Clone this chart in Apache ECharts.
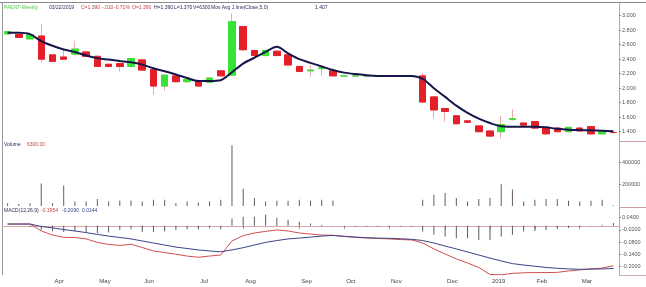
<!DOCTYPE html>
<html><head><meta charset="utf-8">
<script src="https://cdn.jsdelivr.net/npm/echarts/dist/echarts.min.js"></script>
<style>html,body{margin:0;padding:0;background:#fff}#c{width:646px;height:287px}</style>
</head><body><div id="c"></div>
<script>
const dates = ['2018-03-09','2018-03-16','2018-03-23','2018-03-30','2018-04-06','2018-04-13','2018-04-20','2018-04-27','2018-05-04','2018-05-11','2018-05-18','2018-05-25','2018-06-01','2018-06-08','2018-06-15','2018-06-22','2018-06-29','2018-07-06','2018-07-13','2018-07-20','2018-07-27','2018-08-03','2018-08-10','2018-08-17','2018-08-24','2018-08-31','2018-09-07','2018-09-14','2018-09-21','2018-09-28','2018-10-05','2018-10-12','2018-10-19','2018-10-26','2018-11-02','2018-11-09','2018-11-16','2018-11-23','2018-11-30','2018-12-07','2018-12-14','2018-12-21','2018-12-28','2019-01-04','2019-01-11','2019-01-18','2019-01-25','2019-02-01','2019-02-08','2019-02-15','2019-02-22','2019-03-01','2019-03-08','2019-03-15','2019-03-22'];
const openP  = [2.75,2.74,2.68,2.72,2.46,2.43,2.47,2.50,2.44,2.33,2.34,2.30,2.39,2.26,2.03,2.17,2.09,2.10,2.08,2.24,2.18,2.85,2.52,2.45,2.51,2.46,2.30,2.24,2.27,2.24,2.17,2.17,2.17,2.17,2.17,2.17,2.17,2.17,1.88,1.72,1.62,1.55,1.48,1.41,1.40,1.57,1.52,1.54,1.45,1.45,1.40,1.45,1.47,1.37,1.39];
const closeP = [2.78,2.70,2.74,2.40,2.37,2.40,2.54,2.44,2.30,2.30,2.30,2.41,2.25,2.03,2.18,2.09,2.12,2.03,2.14,2.17,2.92,2.53,2.45,2.52,2.45,2.32,2.23,2.25,2.28,2.17,2.17,2.17,2.17,2.17,2.17,2.17,2.17,1.81,1.70,1.68,1.51,1.53,1.40,1.34,1.50,1.58,1.49,1.45,1.37,1.40,1.46,1.41,1.37,1.40,1.39];
const highP  = [2.79,2.75,2.75,2.88,2.47,2.55,2.655,2.51,2.45,2.34,2.35,2.42,2.40,2.27,2.19,2.18,2.13,2.11,2.15,2.25,3.03,2.86,2.53,2.53,2.52,2.47,2.31,2.32,2.31,2.25,2.17,2.17,2.17,2.17,2.17,2.17,2.17,2.21,1.89,1.73,1.63,1.56,1.49,1.42,1.62,1.71,1.53,1.55,1.46,1.46,1.47,1.46,1.48,1.41,1.39];
const lowP   = [2.74,2.69,2.67,2.35,2.36,2.39,2.45,2.43,2.29,2.29,2.23,2.29,2.24,1.91,1.97,2.08,2.08,2.02,2.07,2.16,2.17,2.52,2.44,2.44,2.44,2.31,2.22,2.16,2.17,2.16,2.17,2.17,2.17,2.17,2.17,2.17,2.17,1.80,1.59,1.54,1.50,1.52,1.39,1.33,1.31,1.55,1.48,1.44,1.36,1.39,1.39,1.40,1.36,1.36,1.37];
const movAvg5 = [2.765,2.765,2.745,2.65,2.585,2.535,2.50,2.45,2.415,2.395,2.375,2.357,2.325,2.275,2.235,2.19,2.14,2.10,2.10,2.11,2.22,2.34,2.42,2.50,2.57,2.48,2.40,2.35,2.30,2.25,2.215,2.195,2.18,2.17,2.168,2.168,2.168,2.13,2.00,1.88,1.76,1.66,1.58,1.52,1.475,1.469,1.469,1.469,1.46,1.44,1.428,1.423,1.42,1.414,1.407];
const volume = [25000,19000,26000,207000,26000,190000,41000,41000,64000,41000,51000,51000,41000,57000,57000,26000,41000,32000,41000,57000,560000,159000,73000,41000,48000,48000,57000,48000,57000,51000,0,0,0,0,0,0,0,57000,105000,121000,73000,41000,64000,73000,200000,152000,41000,57000,64000,64000,48000,41000,48000,57000,6300];
const macdLine = [0.009,0.009,0.009,-0.025,-0.045,-0.056,-0.057,-0.064,-0.081,-0.091,-0.096,-0.090,-0.106,-0.123,-0.131,-0.139,-0.148,-0.154,-0.148,-0.143,-0.074,-0.048,-0.035,-0.027,-0.020,-0.025,-0.035,-0.040,-0.045,-0.046,-0.052,-0.056,-0.060,-0.062,-0.064,-0.067,-0.069,-0.084,-0.113,-0.138,-0.162,-0.182,-0.204,-0.238,-0.240,-0.233,-0.230,-0.229,-0.229,-0.228,-0.221,-0.216,-0.211,-0.207,-0.1954];
const signalLine = [0.009,0.009,0.009,-0.003,-0.010,-0.018,-0.025,-0.033,-0.042,-0.050,-0.057,-0.064,-0.074,-0.084,-0.094,-0.104,-0.111,-0.118,-0.123,-0.127,-0.118,-0.107,-0.094,-0.081,-0.072,-0.064,-0.060,-0.055,-0.050,-0.047,-0.051,-0.055,-0.058,-0.060,-0.061,-0.063,-0.066,-0.072,-0.084,-0.099,-0.113,-0.128,-0.143,-0.158,-0.172,-0.185,-0.192,-0.198,-0.204,-0.208,-0.211,-0.213,-0.212,-0.211,-0.209];
const macdHist = [0,0,-0.005,-0.02,-0.026,-0.03,-0.026,-0.03,-0.036,-0.032,-0.02,-0.016,-0.03,-0.03,-0.026,-0.02,-0.016,-0.016,-0.012,-0.016,0.036,0.045,0.045,0.054,0.04,0.03,0.02,0.012,0.005,0.002,-0.003,-0.003,-0.003,-0.003,-0.003,-0.003,-0.003,-0.028,-0.044,-0.052,-0.061,-0.061,-0.069,-0.069,-0.052,-0.044,-0.028,-0.025,-0.02,-0.015,-0.01,-0.004,0.002,0.005,0.0144];
const priceTicks = [1.4,1.6,1.8,2.0,2.2,2.4,2.6,2.8,3.0];
const volumeTicks = [200000,400000];
const macdTicks = [0.04,-0.02,-0.08,-0.14,-0.20];
const monthNames = ['2019','Feb','Mar','Apr','May','Jun','Jul','Aug','Sep','Oct','Nov','Dec'];

const monthStart = dates.map((d,i)=> i>0 && d.slice(5,7)!==dates[i-1].slice(5,7));
const monthLabel = i => monthNames[parseInt(dates[i].slice(5,7),10)-1];

const FONT = 'Liberation Sans';
const RED = '#e3202a', GREEN = '#37e337';
const wickData = dates.map((d,i)=>[openP[i],closeP[i],lowP[i],highP[i]]);
const bodyData = dates.map((d,i)=>[openP[i],closeP[i],Math.min(openP[i],closeP[i]),Math.max(openP[i],closeP[i])]);

const hiddenX = (g)=>({type:'category',gridIndex:g,data:dates,boundaryGap:true,axisLine:{show:false},axisTick:{show:false},axisLabel:{show:false},splitLine:{show:false}});
const rightAxisLine = {show:true,lineStyle:{color:'#b8a6ad',width:1}};
const HF = '5px "Liberation Sans"';
const txt = (x,y,t,c)=>({type:'text',x:x,y:y,silent:true,style:{text:t,fill:c,font:HF,textVerticalAlign:'middle'}});
const NAVY = '#2a2a5a', TRED = '#c84040';

const option = {
  animation:false,
  backgroundColor:'#fff',
  grid:[
    {left:2,right:27,top:3,height:138},
    {left:2,right:27,top:141,height:65},
    {left:2,right:27,top:207,height:68}
  ],
  xAxis:[hiddenX(0),hiddenX(1),{
    type:'category',gridIndex:2,data:dates,boundaryGap:true,
    axisLine:{show:true,lineStyle:{color:'#d9a7a7',width:1}},
    axisTick:{show:true,alignWithLabel:true,length:3,interval:(i)=>monthStart[i],lineStyle:{color:'#9a8a8a'}},
    axisLabel:{show:true,interval:(i)=>monthStart[i],formatter:(v,i)=>monthLabel(i),align:'left',padding:[0,0,0,2],margin:3,fontSize:6,fontFamily:FONT,color:'#444'},
    splitLine:{show:false}
  }],
  yAxis:[
    {type:'value',gridIndex:0,position:'right',min:1.272,max:3.175,splitLine:{show:false},axisLine:rightAxisLine,
     axisTick:{show:true,length:2,customValues:priceTicks,lineStyle:{color:'#888'}},
     axisLabel:{customValues:priceTicks,formatter:v=>v.toFixed(3),fontSize:5.5,fontFamily:FONT,color:'#555',margin:3}},
    {type:'value',gridIndex:1,position:'right',min:0,max:600000,splitLine:{show:false},axisLine:rightAxisLine,
     axisTick:{show:true,length:2,customValues:volumeTicks,lineStyle:{color:'#888'}},
     axisLabel:{customValues:volumeTicks,formatter:v=>String(v),fontSize:5.5,fontFamily:FONT,color:'#555',margin:3}},
    {type:'value',gridIndex:2,position:'right',min:-0.2409,max:0.0925,splitLine:{show:false},axisLine:rightAxisLine,
     axisTick:{show:true,length:2,customValues:macdTicks,lineStyle:{color:'#888'}},
     axisLabel:{customValues:macdTicks,formatter:v=>v.toFixed(4),fontSize:5.5,fontFamily:FONT,color:'#555',margin:3}}
  ],
  series:[
    {type:'candlestick',xAxisIndex:0,yAxisIndex:0,data:wickData,barWidth:7,
     itemStyle:{color:'#f4b4b4',color0:'#f4b4b4',borderColor:'#f0a8a8',borderColor0:'#f0a8a8',borderWidth:1}},
    {type:'candlestick',xAxisIndex:0,yAxisIndex:0,data:bodyData,barWidth:7,
     itemStyle:{color:GREEN,color0:RED,borderColor:GREEN,borderColor0:RED,borderWidth:1}},
    {type:'line',xAxisIndex:0,yAxisIndex:0,data:movAvg5,symbol:'none',smooth:0.3,lineStyle:{color:'#16164a',width:2}},
    {type:'bar',xAxisIndex:1,yAxisIndex:1,data:volume,barWidth:1,itemStyle:{color:'#6a5a5a'}},
    {type:'bar',xAxisIndex:2,yAxisIndex:2,data:macdHist,barWidth:1,itemStyle:{color:'#5a5a6a'}},
    {type:'line',xAxisIndex:2,yAxisIndex:2,data:macdLine,symbol:'none',lineStyle:{color:'#d05050',width:1}},
    {type:'line',xAxisIndex:2,yAxisIndex:2,data:signalLine,symbol:'none',lineStyle:{color:'#3a4488',width:1}}
  ],
  graphic:[
    {type:'line',shape:{x1:0,y1:2.5,x2:646,y2:2.5},style:{stroke:'#8a8a8a',lineWidth:1},silent:true},
    {type:'line',shape:{x1:2.5,y1:2.5,x2:2.5,y2:275},style:{stroke:'#9a9a9a',lineWidth:1},silent:true},
    {type:'line',shape:{x1:619,y1:141.5,x2:646,y2:141.5},style:{stroke:'#d0a0a0',lineWidth:1},silent:true},
    {type:'line',shape:{x1:619,y1:207.5,x2:646,y2:207.5},style:{stroke:'#d0a0a0',lineWidth:1},silent:true},
    {type:'line',shape:{x1:619,y1:275.5,x2:646,y2:275.5},style:{stroke:'#d9a7a7',lineWidth:1},silent:true},
    txt(4,8,'PAENT-Weekly','#55c855'),
    txt(49,8,'03/22/2019',NAVY),
    txt(81,8,'C=1.390',TRED),
    txt(102,8,'-.010',TRED),
    txt(114,8,'-0.71%',TRED),
    txt(132,8,'O=1.390',TRED),
    txt(154,8,'H=1.390',NAVY),
    txt(174,8,'L=1.370',NAVY),
    txt(193,8,'V=6300',NAVY),
    txt(211,8,'Mov Avg 1 line(Close,5,0)',NAVY),
    txt(315,8,'1.407',NAVY),
    txt(4,144.5,'Volume',NAVY),
    txt(27,144.5,'6300.00',TRED),
    txt(4,211,'MACD(12,26,9)',NAVY),
    txt(41,211,'-0.1954',TRED),
    txt(62,211,'-0.2090','#3a4488'),
    txt(82,211,'0.0144','#3a4488')
  ]
};
const chart = echarts.init(document.getElementById('c'),null,{renderer:'canvas'});
chart.setOption(option);
</script></body></html>
